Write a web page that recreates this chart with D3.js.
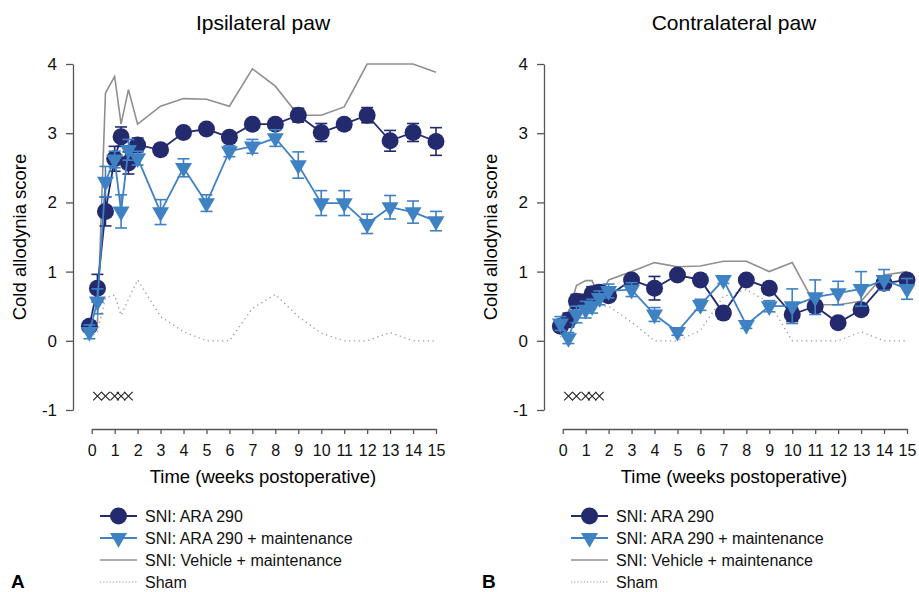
<!DOCTYPE html>
<html>
<head>
<meta charset="utf-8">
<script src="https://cdn.jsdelivr.net/npm/d3@7/dist/d3.min.js"></script>
<style>
  body { margin: 0; background: #fff; }
  svg { font-family: "Liberation Sans", Arial, sans-serif; }
</style>
</head>
<body>
<svg width="919" height="592"></svg>
<script>
// time points (weeks postoperative)
var weeks = [-0.1, 0.25, 0.6, 1, 1.28, 1.6, 2, 3, 4, 5, 6, 7, 8, 9, 10, 11, 12, 13, 14, 15];
var dosingWeeks = [0.25, 0.6, 1, 1.28, 1.6];
var xTicks = [0, 1, 2, 3, 4, 5, 6, 7, 8, 9, 10, 11, 12, 13, 14, 15];
var yTicks = [-1, 0, 1, 2, 3, 4];

var seriesNames = ['SNI: ARA 290', 'SNI: ARA 290 + maintenance', 'SNI: Vehicle + maintenance', 'Sham'];

// ipsilateral paw
var ipsiAra = [0.21, 0.76, 1.87, 2.63, 2.95, 2.57, 2.83, 2.76, 3.01, 3.06, 2.94, 3.13, 3.13, 3.26, 3.01, 3.13, 3.26, 2.89, 3.01, 2.88];
var ipsiAraSem = [0.07, 0.2, 0.21, 0.18, 0.14, 0.16, 0.1, 0.08, 0.05, 0.05, 0.07, 0.05, 0.05, 0.1, 0.13, 0.06, 0.11, 0.15, 0.13, 0.2];
var ipsiMaint = [0.13, 0.57, 2.3, 2.62, 1.87, 2.76, 2.64, 1.86, 2.5, 1.99, 2.74, 2.81, 2.93, 2.54, 1.99, 1.99, 1.69, 1.93, 1.86, 1.73];
var ipsiMaintSem = [0.1, 0.18, 0.22, 0.12, 0.24, 0.15, 0.1, 0.18, 0.13, 0.12, 0.08, 0.1, 0.12, 0.19, 0.18, 0.18, 0.14, 0.17, 0.16, 0.14];
var ipsiVehicle = [0.2, 0.26, 3.58, 3.82, 3.13, 3.63, 3.13, 3.39, 3.5, 3.49, 3.39, 3.93, 3.68, 3.26, 3.26, 3.38, 4.0, 4.0, 4.0, 3.88];
var ipsiSham = [0.05, 0.12, 0.62, 0.66, 0.37, 0.6, 0.88, 0.35, 0.13, 0, 0, 0.47, 0.67, 0.35, 0.11, 0, 0, 0.12, 0, 0];

// contralateral paw
var contraAra = [0.21, 0.3, 0.57, 0.55, 0.68, 0.7, 0.65, 0.88, 0.76, 0.95, 0.88, 0.4, 0.88, 0.76, 0.38, 0.5, 0.26, 0.45, 0.83, 0.88];
var contraAraSem = [0.07, 0.1, 0.1, 0.12, 0.1, 0.1, 0.08, 0.05, 0.17, 0.05, 0.08, 0.06, 0.05, 0.08, 0.1, 0.08, 0.05, 0.08, 0.08, 0.08];
var contraMaint = [0.25, 0.04, 0.38, 0.45, 0.5, 0.62, 0.72, 0.74, 0.38, 0.13, 0.52, 0.88, 0.23, 0.5, 0.5, 0.63, 0.69, 0.75, 0.88, 0.75];
var contraMaintSem = [0.1, 0.08, 0.12, 0.12, 0.1, 0.1, 0.1, 0.1, 0.1, 0.05, 0.08, 0.05, 0.05, 0.08, 0.25, 0.25, 0.17, 0.25, 0.15, 0.15];
var contraVehicle = [0.2, 0.4, 0.8, 0.87, 0.87, 0.62, 0.88, 1.0, 1.13, 1.07, 1.08, 1.15, 1.15, 1.0, 1.13, 0.52, 0.52, 0.57, 0.95, 1.0];
var contraSham = [0.05, 0.2, 0.35, 0.45, 0.45, 0.5, 0.5, 0.27, 0, 0, 0.15, 0.64, 0.74, 0.55, 0, 0, 0, 0.13, 0, 0];

var navy = '#232a6e',
    lightBlue = '#3f82c4',
    grey = '#8f8f8f';

var svg = d3.select('svg');
svg.append('rect').attr('width', 919).attr('height', 592).attr('fill', '#fff');

var tri = d3.symbol().type(d3.symbolTriangle).size(125);

var drawPanel = function(p) {
  var off = p.offset;
  var x = d3.scaleLinear().domain([0, 15]).range([91.7 + off, 436 + off]),
      y = d3.scaleLinear().domain([-1, 4]).range([410, 64]);

  var g = svg.append('g');

  // title
  g.append('text')
    .attr('x', 263 + off)
    .attr('y', 30)
    .attr('text-anchor', 'middle')
    .style('font-size', '21px')
    .text(p.title);

  // y axis
  var yAxis = g.append('g')
    .attr('transform', 'translate(' + (73 + off) + ',0)')
    .call(d3.axisLeft(y).tickValues(yTicks).tickSize(7).tickSizeOuter(0).tickPadding(9)
      .tickFormat(function(d) { return String(d); }));
  yAxis.selectAll('path, line').attr('stroke', '#555').attr('stroke-width', 1.3);
  yAxis.selectAll('text').style('font-size', '17px').attr('fill', '#111');

  // x axis
  var xAxis = g.append('g')
    .attr('transform', 'translate(0,429)')
    .call(d3.axisBottom(x).tickValues(xTicks).tickSize(5).tickSizeOuter(0).tickPadding(11));
  xAxis.selectAll('path, line').attr('stroke', '#555').attr('stroke-width', 1.3);
  xAxis.selectAll('text').style('font-size', '16px').attr('fill', '#111');

  g.append('text')
    .attr('x', 263 + off)
    .attr('y', 483)
    .attr('text-anchor', 'middle')
    .style('font-size', '18.5px')
    .text('Time (weeks postoperative)');

  g.append('text')
    .attr('text-anchor', 'middle')
    .attr('transform', 'translate(' + (26 + off) + ',' + y(1.5) + ')rotate(-90)')
    .style('font-size', '18.5px')
    .text('Cold allodynia score');

  // dosing crosses
  g.selectAll('.dose')
    .data(dosingWeeks).enter()
    .append('path')
    .attr('class', 'dose')
    .attr('transform', function(d) { return 'translate(' + x(d) + ',' + y(-0.8) + ')rotate(45)'; })
    .attr('d', 'M-6,0H6M0,-6V6')
    .attr('stroke', '#222')
    .attr('stroke-width', 1.1)
    .attr('fill', 'none');

  var line = d3.line()
    .x(function(d, i) { return x(weeks[i]); })
    .y(function(d) { return y(d); });

  // sham
  g.append('path')
    .datum(p.sham)
    .attr('d', line)
    .attr('fill', 'none')
    .attr('stroke', '#9a9a9a')
    .attr('stroke-width', 1.3)
    .attr('stroke-dasharray', '1.3,3.5');

  // vehicle
  g.append('path')
    .datum(p.vehicle)
    .attr('d', line)
    .attr('fill', 'none')
    .attr('stroke', grey)
    .attr('stroke-width', 1.6);

  var drawSeries = function(vals, sem, color, shape) {
    var s = g.append('g');
    s.append('path')
      .datum(vals)
      .attr('d', line)
      .attr('fill', 'none')
      .attr('stroke', color)
      .attr('stroke-width', 1.8);

    var eb = s.selectAll('.eb')
      .data(vals).enter()
      .append('g')
      .attr('stroke', color)
      .attr('stroke-width', 1.6);
    eb.append('line')
      .attr('x1', function(d, i) { return x(weeks[i]); })
      .attr('x2', function(d, i) { return x(weeks[i]); })
      .attr('y1', function(d, i) { return y(d - sem[i]); })
      .attr('y2', function(d, i) { return y(d + sem[i]); });
    [1, -1].forEach(function(sign) {
      eb.append('line')
        .attr('x1', function(d, i) { return x(weeks[i]) - 6; })
        .attr('x2', function(d, i) { return x(weeks[i]) + 6; })
        .attr('y1', function(d, i) { return y(d + sign * sem[i]); })
        .attr('y2', function(d, i) { return y(d + sign * sem[i]); });
    });

    if (shape === 'circle') {
      s.selectAll('.mk')
        .data(vals).enter()
        .append('circle')
        .attr('cx', function(d, i) { return x(weeks[i]); })
        .attr('cy', function(d) { return y(d); })
        .attr('r', 8.5)
        .attr('fill', color);
    } else {
      s.selectAll('.mk')
        .data(vals).enter()
        .append('path')
        .attr('transform', function(d, i) { return 'translate(' + x(weeks[i]) + ',' + y(d) + ')rotate(180)'; })
        .attr('d', tri)
        .attr('fill', color);
    }
  };

  drawSeries(p.ara, p.araSem, navy, 'circle');
  drawSeries(p.maint, p.maintSem, lightBlue, 'triangle');

  // legend
  var lg = g.append('g').attr('transform', 'translate(' + (100 + off) + ',516)');
  seriesNames.forEach(function(name, i) {
    var row = lg.append('g').attr('transform', 'translate(0,' + (i * 22) + ')');
    var ln = row.append('line')
      .attr('x1', 0).attr('x2', 37)
      .attr('y1', 0).attr('y2', 0);
    if (i === 0) {
      ln.attr('stroke', navy).attr('stroke-width', 1.8);
      row.append('circle').attr('cx', 18.5).attr('cy', 0).attr('r', 8.5).attr('fill', navy);
    } else if (i === 1) {
      ln.attr('stroke', lightBlue).attr('stroke-width', 1.8);
      row.append('path').attr('transform', 'translate(18.5,0)rotate(180)').attr('d', tri).attr('fill', lightBlue);
    } else if (i === 2) {
      ln.attr('stroke', grey).attr('stroke-width', 1.6);
    } else {
      ln.attr('stroke', '#9a9a9a').attr('stroke-width', 1.2).attr('stroke-dasharray', '1.2,2');
    }
    row.append('text')
      .attr('x', 45)
      .attr('y', 5.5)
      .style('font-size', '16px')
      .attr('fill', '#111')
      .text(name);
  });

  g.append('text')
    .attr('x', 11 + off)
    .attr('y', 588)
    .style('font-size', '19px')
    .style('font-weight', 'bold')
    .text(p.letter);
};

drawPanel({
  offset: 0, title: 'Ipsilateral paw', letter: 'A',
  ara: ipsiAra, araSem: ipsiAraSem, maint: ipsiMaint, maintSem: ipsiMaintSem,
  vehicle: ipsiVehicle, sham: ipsiSham
});
drawPanel({
  offset: 471, title: 'Contralateral paw', letter: 'B',
  ara: contraAra, araSem: contraAraSem, maint: contraMaint, maintSem: contraMaintSem,
  vehicle: contraVehicle, sham: contraSham
});
</script>
</body>
</html>
